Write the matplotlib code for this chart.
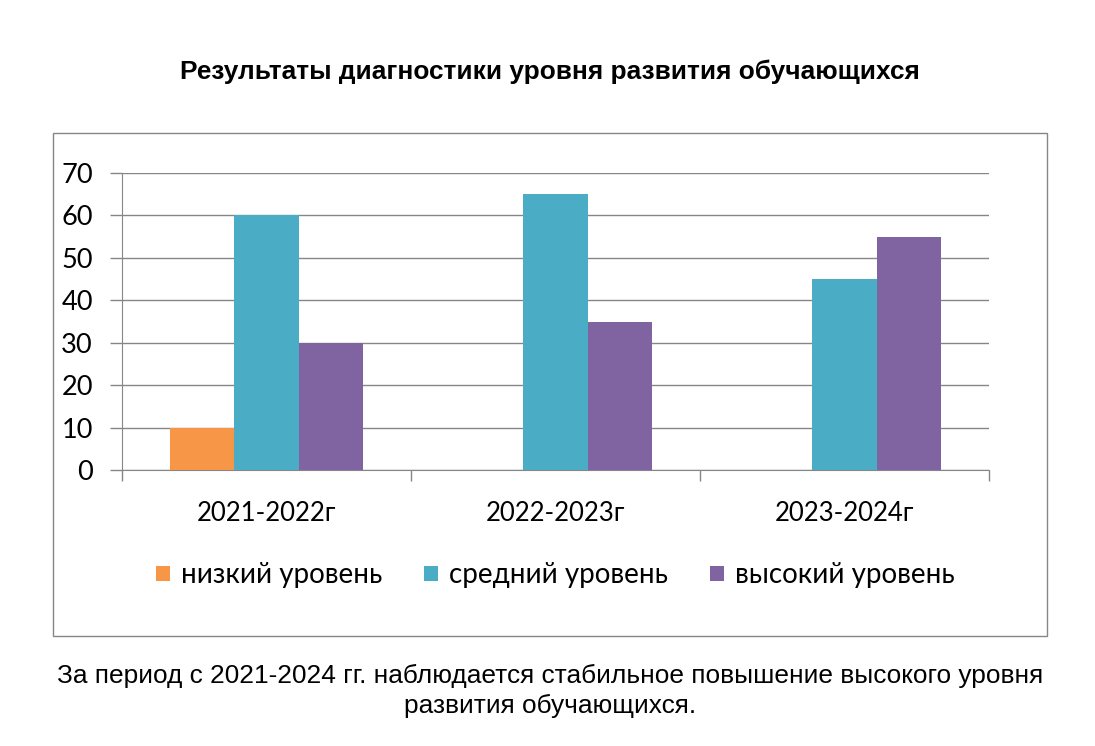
import matplotlib.pyplot as plt
from matplotlib.patches import Rectangle
import numpy as np

# data
years = ['2021-2022г', '2022-2023г', '2023-2024г']
series = ['низкий уровень', 'средний уровень', 'высокий уровень']
low = [10, 0, 0]
mid = [60, 65, 45]
high = [30, 35, 55]
colors = ['#F79646', '#4BACC6', '#8064A2']

title = 'Результаты диагностики уровня развития обучающихся'
note = ('За период с 2021-2024 гг. наблюдается стабильное повышение высокого уровня\n'
        'развития обучающихся.')

grid_c = '#868686'

fig = plt.figure(figsize=(10.95, 7.46), dpi=100)

# outer chart frame
fig.patches.append(Rectangle((53 / 1095, 1 - 636 / 746), (1047 - 53) / 1095, (636 - 133) / 746,
                             transform=fig.transFigure, fill=False, edgecolor=grid_c, linewidth=1))

ax = fig.add_axes([122 / 1095, 1 - 470 / 746, (989 - 122) / 1095, (470 - 173) / 746])

x = np.arange(len(years))
w = 0.2215
for i, (vals, lab) in enumerate(zip([low, mid, high], series)):
    ax.bar(x + (i - 1) * w, vals, w, color=colors[i], label=lab, zorder=3)

ax.set_xlim(-0.5, 2.5)
ax.set_ylim(0, 70)
ax.set_yticks(range(0, 71, 10))
ax.yaxis.grid(True, color=grid_c, linewidth=1, zorder=0)
ax.tick_params(axis='y', length=9, color=grid_c, width=1, labelsize=19.5, pad=12)
for t in ax.get_yticklabels():
    t.set_family('Lato')

# category ticks on the boundaries, labels centered
ax.set_xticks([-0.5, 0.5, 1.5, 2.5])
ax.set_xticklabels([])
ax.set_xticks(x, minor=True)
ax.set_xticklabels(years, minor=True, fontsize=18.5, family='Lato')
ax.tick_params(axis='x', which='major', length=8, color=grid_c, width=1)
ax.tick_params(axis='x', which='minor', length=0, pad=22)

for s in ['top', 'right']:
    ax.spines[s].set_visible(False)
ax.spines['left'].set_color(grid_c)
ax.spines['bottom'].set_color(grid_c)

leg = ax.legend(loc='center', bbox_to_anchor=(0.5, -0.355), ncol=3, frameon=False,
                prop={'family': 'Lato', 'size': 20}, handlelength=0.5, handleheight=0.5,
                handletextpad=0.4, columnspacing=1.5)

fig.text(0.502, 1 - 72 / 746, title, ha='center', va='center', fontsize=18.9,
         fontweight='bold', family='Liberation Sans')
fig.text(0.502, 1 - 691 / 746, note, ha='center', va='center', fontsize=18.9,
         family='Liberation Sans', linespacing=1.29)

fig.savefig('out.png', dpi=100)
